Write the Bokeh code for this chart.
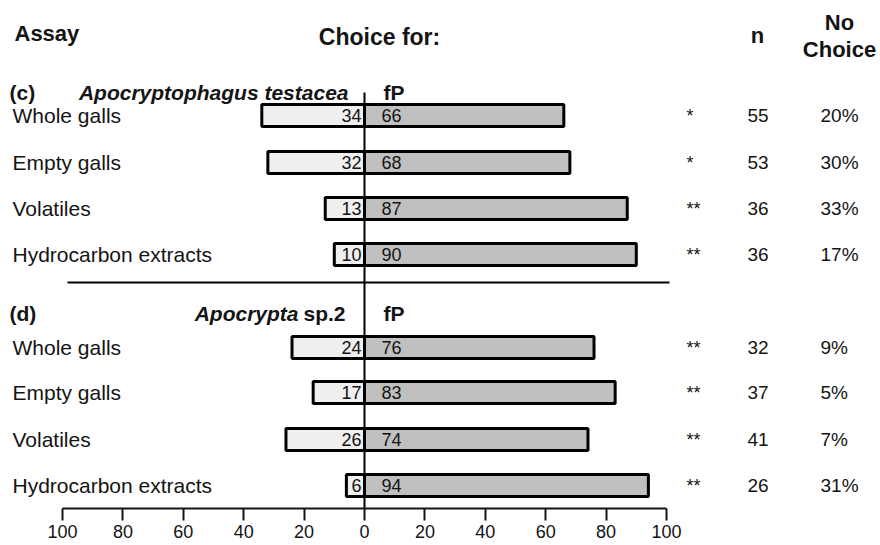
from bokeh.plotting import figure
from bokeh.models import ColumnDataSource, LinearAxis, FixedTicker, Range1d
from bokeh.core.properties import value
from bokeh.embed import file_html
from bokeh.resources import INLINE

# ---------------- data ----------------
ASSAYS = ["Whole galls", "Empty galls", "Volatiles", "Hydrocarbon extracts"]

C_SPECIES = "Apocryptophagus testacea"
C_OTHER = [34, 32, 13, 10]
C_FP = [66, 68, 87, 90]
C_SIG = ["*", "*", "**", "**"]
C_N = [55, 53, 36, 36]
C_NOCHOICE = [20, 30, 33, 17]

D_GENUS = "Apocrypta"
D_SUFFIX = "sp.2"
D_OTHER = [24, 17, 26, 6]
D_FP = [76, 83, 74, 94]
D_SIG = ["**", "**", "**", "**"]
D_N = [32, 37, 41, 26]
D_NOCHOICE = [9, 5, 7, 31]

TICK_VALUES = [-100, -80, -60, -40, -20, 0, 20, 40, 60, 80, 100]
TICK_LABELS = ["100", "80", "60", "40", "20", "0", "20", "40", "60", "80", "100"]

# ---------------- layout ----------------
FONT_NAME = "Liberation Sans"
FONT = value(FONT_NAME)
INK = "#141414"
PX = 3.02           # pixels per percentage unit
ZERO_PX = 364       # pixel column of zero


def px(xp):
    return (xp - ZERO_PX) / PX


ROWS_C = [115, 162, 208, 254]
ROWS_D = [347, 392, 439, 485]
HEAD_C = 92
HEAD_D = 313
DIVIDER_Y = 282
AXIS_Y = 508
TOP_Y = 0

FRAME_W = 880
FRAME_H = AXIS_Y - TOP_Y

p = figure(frame_width=FRAME_W, frame_height=FRAME_H,
           x_range=Range1d(px(0), px(FRAME_W)),
           y_range=Range1d(AXIS_Y, TOP_Y),
           x_axis_type=None, y_axis_type=None,
           output_backend="svg", toolbar_location=None,
           min_border_left=0, min_border_right=0, min_border_top=0, min_border_bottom=0)
p.outline_line_color = None
p.background_fill_color = "white"
p.border_fill_color = "white"

axis = LinearAxis(ticker=FixedTicker(ticks=TICK_VALUES),
                  bounds=(TICK_VALUES[0], TICK_VALUES[-1]),
                  major_label_overrides={t: l for t, l in zip(TICK_VALUES, TICK_LABELS)},
                  axis_line_width=2, axis_line_color=INK,
                  major_tick_line_width=2, major_tick_line_color=INK,
                  major_tick_in=0, major_tick_out=12,
                  minor_tick_in=0, minor_tick_out=0, minor_tick_line_color=None,
                  major_label_text_font=FONT_NAME, major_label_text_font_size="18px",
                  major_label_text_color=INK, major_label_standoff=4)
p.add_layout(axis, "below")

ys = ROWS_C + ROWS_D
other = C_OTHER + D_OTHER
fp = C_FP + D_FP
src = ColumnDataSource(dict(
    y=ys,
    left=[-v for v in other],
    right=fp,
    other=[str(v) for v in other],
    fp=[str(v) for v in fp],
    label=ASSAYS + ASSAYS,
    sig=C_SIG + D_SIG,
    n=[str(v) for v in C_N + D_N],
    nc=[f"{v}%" for v in C_NOCHOICE + D_NOCHOICE],
))

# bars
p.hbar(y="y", left="left", right=0, height=22, source=src,
       fill_color="#efefef", line_color="black", line_width=3)
p.hbar(y="y", left=0, right="right", height=22, source=src,
       fill_color="#c0c0c0", line_color="black", line_width=3)

# zero line & divider
p.segment(x0=[0], y0=[HEAD_C], x1=[0], y1=[AXIS_Y], line_color="black", line_width=2)
p.segment(x0=[px(67)], y0=[DIVIDER_Y], x1=[px(669)], y1=[DIVIDER_Y],
          line_color="black", line_width=2)

# values inside bars
p.text(x=px(361), y="y", text="other", source=src, text_align="right",
       text_baseline="middle", text_font=FONT, text_font_size="18px", text_color=INK)
p.text(x=px(381), y="y", text="fp", source=src, text_align="left",
       text_baseline="middle", text_font=FONT, text_font_size="18px", text_color=INK)

# row labels
p.text(x=px(12), y="y", text="label", source=src, text_align="left",
       text_baseline="middle", text_font=FONT, text_font_size="21px", text_color=INK)

# significance, n, no choice
p.text(x=px(686), y="y", text="sig", source=src, text_align="left",
       text_baseline="middle", text_font=FONT, text_font_size="18px", text_color=INK)
p.text(x=px(747), y="y", text="n", source=src, text_align="left",
       text_baseline="middle", text_font=FONT, text_font_size="19px", text_color=INK)
p.text(x=px(820), y="y", text="nc", source=src, text_align="left",
       text_baseline="middle", text_font=FONT, text_font_size="19px", text_color=INK)


def txt(x, y, s, size, style="bold", align="left"):
    p.text(x=[x], y=[y], text=[s], text_align=align, text_baseline="middle",
           text_font=FONT, text_font_size=size, text_font_style=style, text_color=INK)


# column headers
txt(px(14), 33, "Assay", "22px")
txt(px(379), 36, "Choice for:", "23px", align="center")
txt(px(757), 35, "n", "22px", align="center")
txt(px(839), 22, "No", "22px", align="center")
txt(px(839), 49, "Choice", "22px", align="center")

# section headers
txt(px(9), HEAD_C, "(c)", "21px")
txt(px(348), HEAD_C, C_SPECIES, "21px", style="bold italic", align="right")
txt(px(383), HEAD_C, "fP", "21px")

txt(px(9), HEAD_D, "(d)", "21px")
txt(px(298), HEAD_D, D_GENUS, "21px", style="bold italic", align="right")
txt(px(303), HEAD_D, D_SUFFIX, "21px")
txt(px(383), HEAD_D, "fP", "21px")

open("out.html", "w").write(file_html(p, INLINE))
